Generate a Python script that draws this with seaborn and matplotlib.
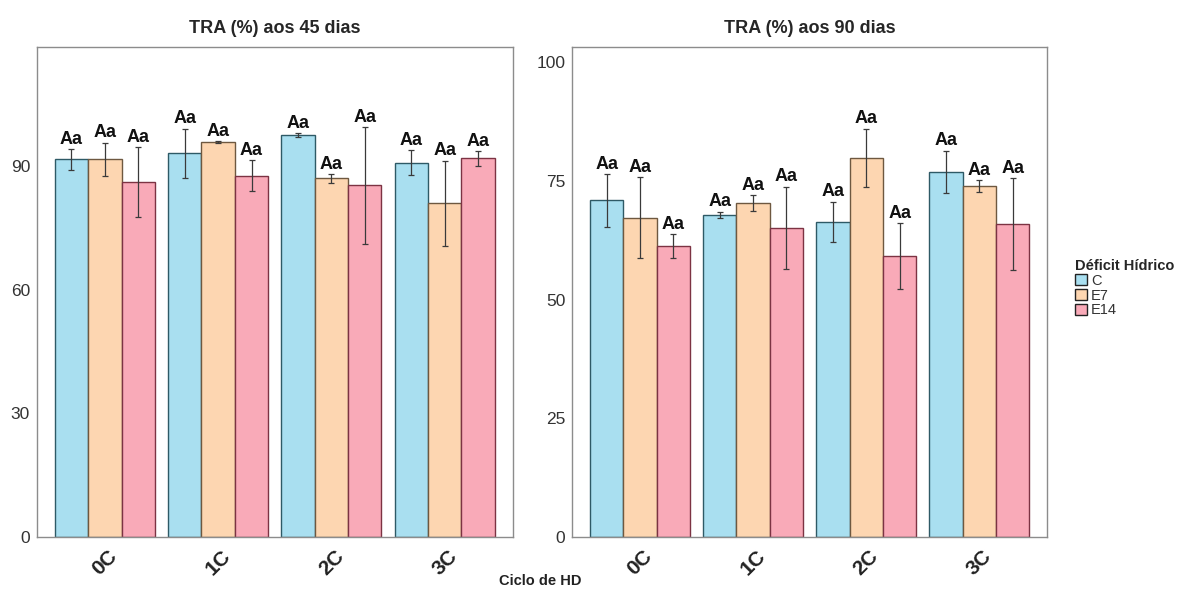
import numpy as np
import pandas as pd
import matplotlib
matplotlib.use("Agg")
import matplotlib.pyplot as plt
import seaborn as sns
from matplotlib.patches import Patch

cycles = ["0C", "1C", "2C", "3C"]
treatments = ["C", "E7", "E14"]

# TRA (%) at 45 days: means per cycle for C, E7, E14
tra45_C = [91.7, 93.2, 97.6, 90.9]
tra45_E7 = [91.7, 95.9, 87.1, 81.1]
tra45_E14 = [86.2, 87.8, 85.4, 92.0]
se45_C = [2.5, 6.0, 0.5, 3.0]
se45_E7 = [4.1, 0.3, 1.1, 10.3]
se45_E14 = [8.5, 3.7, 14.2, 1.8]

# TRA (%) at 90 days
tra90_C = [70.9, 67.8, 66.4, 76.9]
tra90_E7 = [67.3, 70.3, 79.9, 73.9]
tra90_E14 = [61.3, 65.1, 59.2, 65.9]
se90_C = [5.5, 0.7, 4.2, 4.5]
se90_E7 = [8.5, 1.7, 6.1, 1.3]
se90_E14 = [2.5, 8.7, 6.9, 9.7]

letters = "Aa"

colors = {"C": "#a9dff0", "E7": "#fdd6b1", "E14": "#f9aab8"}
edges = {"C": "#2e5a66", "E7": "#6e5840", "E14": "#7c3343"}


def make_df(cvals, evals, fvals, cse, ese, fse):
    rows = []
    for t, vals, ses in zip(treatments, [cvals, evals, fvals], [cse, ese, fse]):
        for cyc, v, s in zip(cycles, vals, ses):
            rows.append({"Ciclo": cyc, "Trat": t, "TRA": v, "se": s})
    return pd.DataFrame(rows)


df45 = make_df(tra45_C, tra45_E7, tra45_E14, se45_C, se45_E7, se45_E14)
df90 = make_df(tra90_C, tra90_E7, tra90_E14, se90_C, se90_E7, se90_E14)

sns.set_theme(style="white")
plt.rcParams["font.family"] = ["Liberation Sans", "DejaVu Sans"]

fig = plt.figure(figsize=(11.92, 5.96), dpi=100)
ax1 = fig.add_axes([0.031, 0.099, 0.399, 0.822])
ax2 = fig.add_axes([0.480, 0.099, 0.3985, 0.822])


def draw(ax, df, ylim, yticks, title):
    sns.barplot(data=df, x="Ciclo", y="TRA", hue="Trat", order=cycles,
                hue_order=treatments, palette=colors, width=0.885, gap=0,
                errorbar=None, ax=ax, legend=False, saturation=1)
    for cont, t in zip(ax.containers, treatments):
        sub = df[df["Trat"] == t].set_index("Ciclo").loc[cycles]
        xs = []
        for bar in cont:
            bar.set_edgecolor(edges[t])
            bar.set_linewidth(1.0)
            xs.append(bar.get_x() + bar.get_width() / 2)
        xs = np.array(xs)
        ax.errorbar(xs, sub["TRA"].values, yerr=sub["se"].values, fmt="none",
                    ecolor="#3a3a3a", elinewidth=0.9, capsize=2, capthick=0.9)
        for x, m, s in zip(xs, sub["TRA"].values, sub["se"].values):
            ax.text(x, m + s + 0.3, letters, ha="center", va="bottom",
                    fontsize=13, fontweight="bold", color="#111111")
    ax.set_xlim(-0.6, 3.6)
    ax.set_ylim(*ylim)
    ax.set_yticks(yticks)
    ax.set_yticklabels([str(v) for v in yticks], fontsize=12.5, color="#333333")
    ax.set_xticks(range(len(cycles)))
    ax.set_xticklabels(cycles, rotation=45, fontsize=15, fontweight="bold",
                       color="#222222", ha="center", va="top")
    ax.tick_params(axis="y", length=3, color="#555555", pad=2)
    ax.tick_params(axis="x", length=3, color="#555555", pad=4)
    ax.set_xlabel("")
    ax.set_ylabel("")
    for sp in ax.spines.values():
        sp.set_color("#8c8c8c")
        sp.set_linewidth(1.0)
    ax.set_title(title, fontsize=13, fontweight="bold", pad=10)


draw(ax1, df45, (0, 119), [0, 30, 60, 90], "TRA (%) aos 45 dias")
draw(ax2, df90, (0, 103.2), [0, 25, 50, 75, 100], "TRA (%) aos 90 dias")

fig.text(0.453, 0.025, "Ciclo de HD", ha="center", va="center",
         fontsize=10.5, fontweight="bold", color="#222222")

handles = [Patch(facecolor=colors[t], edgecolor="#222222", linewidth=1.0, label=t)
           for t in treatments]
leg = fig.legend(handles=handles, title="Déficit Hídrico", loc="upper left",
                 bbox_to_anchor=(0.897, 0.575), frameon=False, fontsize=10.5,
                 title_fontproperties={"weight": "bold", "size": 10.5},
                 handlelength=0.8, handleheight=0.8, handletextpad=0.3,
                 labelspacing=0.05, borderaxespad=0, alignment="left")
for txt in leg.get_texts():
    txt.set_color("#333333")

fig.savefig("out.png", dpi=100)
